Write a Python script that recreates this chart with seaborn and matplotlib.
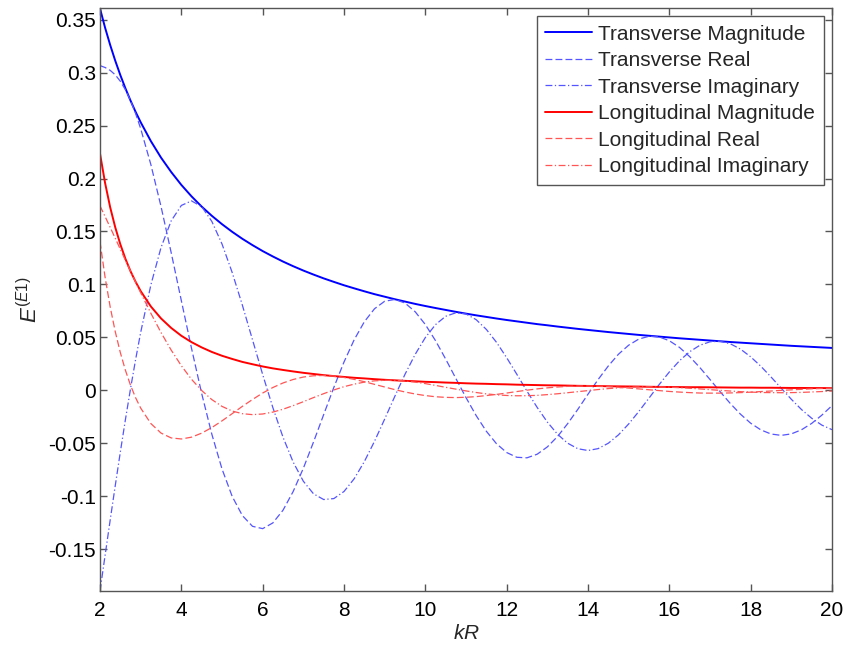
# plot.py
# E1 field components vs kR, transverse and longitudinal parts.

import numpy as np
import matplotlib
matplotlib.use("Agg")
import matplotlib.pyplot as plt
from matplotlib.ticker import FuncFormatter
import seaborn as sns

# kR grid: 2 .. 3 in steps of 0.125 (curves are steep there), then 0.25 up to 20
kr = np.concatenate([np.arange(2.0, 2.99, 0.125), np.arange(3.0, 20.001, 0.25)])

# values, one per kR point
trans_mag = [
    0.3606, 0.3425, 0.3262, 0.3113, 0.2977, 0.2852, 0.2737, 0.2630,
    0.2532, 0.2354, 0.2198, 0.2062,
    0.1940, 0.1832, 0.1735, 0.1648, 0.1569, 0.1497, 0.1431, 0.1371,
    0.1315, 0.1264, 0.1216, 0.1172, 0.1131, 0.1093, 0.1057, 0.1024,
    0.0992, 0.0963, 0.0935, 0.0908, 0.0884, 0.0860, 0.0838, 0.0816,
    0.0796, 0.0777, 0.0759, 0.0741, 0.0724, 0.0708, 0.0693, 0.0678,
    0.0664, 0.0651, 0.0638, 0.0625, 0.0614, 0.0602, 0.0591, 0.0580,
    0.0570, 0.0560, 0.0550, 0.0541, 0.0532, 0.0523, 0.0515, 0.0507,
    0.0499, 0.0491, 0.0484, 0.0477, 0.0470, 0.0463, 0.0456, 0.0450,
    0.0444, 0.0438, 0.0432, 0.0426, 0.0420, 0.0415, 0.0410, 0.0405,
    0.0400,
]
trans_real = [
    0.3067, 0.3049, 0.3022, 0.2980, 0.2919, 0.2839, 0.2737, 0.2615,
    0.2472, 0.2133, 0.1737, 0.1301,
    0.0847, 0.0397, -0.0030, -0.0415, -0.0743, -0.1002, -0.1183, -0.1285,
    -0.1307, -0.1253, -0.1133, -0.0956, -0.0737, -0.0489, -0.0230, 0.0027,
    0.0267, 0.0477, 0.0647, 0.0770, 0.0841, 0.0858, 0.0824, 0.0742,
    0.0621, 0.0469, 0.0295, 0.0112, -0.0069, -0.0239, -0.0387, -0.0505,
    -0.0588, -0.0633, -0.0638, -0.0604, -0.0535, -0.0437, -0.0315, -0.0180,
    -0.0037, 0.0102, 0.0230, 0.0341, 0.0426, 0.0484, 0.0510, 0.0504,
    0.0468, 0.0405, 0.0318, 0.0215, 0.0102, -0.0014, -0.0125, -0.0226,
    -0.0311, -0.0374, -0.0413, -0.0426, -0.0412, -0.0373, -0.0313, -0.0235,
    -0.0145,
]
trans_imag = [
    -0.1896, -0.1560, -0.1227, -0.0901, -0.0583, -0.0277, 0.0014, 0.0289,
    0.0546, 0.0994, 0.1348, 0.1600,
    0.1746, 0.1789, 0.1735, 0.1595, 0.1382, 0.1113, 0.0805, 0.0477,
    0.0149, -0.0163, -0.0443, -0.0678, -0.0859, -0.0978, -0.1032, -0.1023,
    -0.0956, -0.0836, -0.0674, -0.0482, -0.0272, -0.0057, 0.0151, 0.0339,
    0.0498, 0.0620, 0.0699, 0.0732, 0.0721, 0.0667, 0.0575, 0.0453,
    0.0308, 0.0151, -0.0009, -0.0162, -0.0300, -0.0415, -0.0500, -0.0552,
    -0.0569, -0.0551, -0.0500, -0.0421, -0.0318, -0.0200, -0.0074, 0.0054,
    0.0173, 0.0279, 0.0364, 0.0425, 0.0458, 0.0463, 0.0439, 0.0389,
    0.0316, 0.0227, 0.0126, 0.0020, -0.0085, -0.0182, -0.0264, -0.0329,
    -0.0372,
]
long_mag = [
    0.2236, 0.1958, 0.1729, 0.1539, 0.1379, 0.1242, 0.1125, 0.1025,
    0.0937, 0.0792, 0.0679, 0.0589,
    0.0515, 0.0455, 0.0405, 0.0362, 0.0326, 0.0296, 0.0268, 0.0246,
    0.0225, 0.0207, 0.0192, 0.0178, 0.0165, 0.0154, 0.0143, 0.0134,
    0.0126, 0.0118, 0.0112, 0.0105, 0.0099, 0.0094, 0.0089, 0.0085,
    0.0080, 0.0077, 0.0073, 0.0070, 0.0066, 0.0063, 0.0061, 0.0058,
    0.0056, 0.0053, 0.0051, 0.0049, 0.0047, 0.0046, 0.0044, 0.0042,
    0.0041, 0.0040, 0.0038, 0.0037, 0.0036, 0.0035, 0.0033, 0.0032,
    0.0031, 0.0030, 0.0029, 0.0029, 0.0028, 0.0027, 0.0026, 0.0025,
    0.0025, 0.0024, 0.0024, 0.0023, 0.0022, 0.0022, 0.0021, 0.0021,
    0.0020,
]
long_real = [
    0.1403, 0.1068, 0.0788, 0.0554, 0.0356, 0.0189, 0.0048, -0.0070,
    -0.0168, -0.0314, -0.0404, -0.0450,
    -0.0460, -0.0443, -0.0405, -0.0352, -0.0289, -0.0221, -0.0152, -0.0087,
    -0.0026, 0.0026, 0.0069, 0.0102, 0.0125, 0.0137, 0.0140, 0.0134,
    0.0121, 0.0103, 0.0081, 0.0056, 0.0031, 0.0006, -0.0016, -0.0035,
    -0.0050, -0.0061, -0.0067, -0.0069, -0.0066, -0.0060, -0.0050, -0.0039,
    -0.0026, -0.0012, 0.0001, 0.0013, 0.0023, 0.0031, 0.0037, 0.0040,
    0.0041, 0.0039, 0.0035, 0.0029, 0.0021, 0.0013, 0.0005, -0.0003,
    -0.0011, -0.0017, -0.0022, -0.0026, -0.0027, -0.0027, -0.0025, -0.0022,
    -0.0018, -0.0012, -0.0007, -0.0001, 0.0004, 0.0009, 0.0014, 0.0017,
    0.0019,
]
long_imag = [
    0.1742, 0.1641, 0.1539, 0.1436, 0.1332, 0.1228, 0.1125, 0.1022,
    0.0922, 0.0728, 0.0546, 0.0380,
    0.0232, 0.0104, -0.0002, -0.0088, -0.0152, -0.0196, -0.0221, -0.0230,
    -0.0224, -0.0206, -0.0179, -0.0145, -0.0108, -0.0069, -0.0032, 0.0003,
    0.0034, 0.0058, 0.0077, 0.0089, 0.0094, 0.0094, 0.0088, 0.0077,
    0.0063, 0.0046, 0.0028, 0.0011, -0.0006, -0.0021, -0.0034, -0.0043,
    -0.0049, -0.0052, -0.0051, -0.0048, -0.0041, -0.0033, -0.0023, -0.0013,
    -0.0003, 0.0007, 0.0016, 0.0023, 0.0029, 0.0032, 0.0033, 0.0032,
    0.0029, 0.0025, 0.0019, 0.0013, 0.0006, -0.0001, -0.0007, -0.0013,
    -0.0017, -0.0021, -0.0022, -0.0023, -0.0022, -0.0020, -0.0016, -0.0012,
    -0.0007,
]

x_ticks = [2, 4, 6, 8, 10, 12, 14, 16, 18, 20]
y_ticks = [-0.15, -0.1, -0.05, 0, 0.05, 0.1, 0.15, 0.2, 0.25, 0.3, 0.35]

sns.set_theme(style="ticks")
plt.rcParams["font.family"] = ["Liberation Sans", "DejaVu Sans"]
plt.rcParams["mathtext.fontset"] = "custom"
plt.rcParams["mathtext.it"] = "Liberation Sans:italic"
plt.rcParams["mathtext.rm"] = "Liberation Sans"

DASH = (0, (5.5, 2.5))
DASHDOT = (0, (5.5, 2, 1, 2))

series = [
    ("Transverse Magnitude",   trans_mag,  "#0000ff", "-",     1.4),
    ("Transverse Real",        trans_real, "#5555ff", DASH,    0.9),
    ("Transverse Imaginary",   trans_imag, "#5555ff", DASHDOT, 0.9),
    ("Longitudinal Magnitude", long_mag,   "#ff0000", "-",     1.4),
    ("Longitudinal Real",      long_real,  "#ff5555", DASH,    0.9),
    ("Longitudinal Imaginary", long_imag,  "#ff5555", DASHDOT, 0.9),
]

fig = plt.figure(figsize=(8.45, 6.46), dpi=100)
ax = fig.add_axes([100 / 845, 55 / 646, 732 / 845, 583 / 646])

for label, vals, color, ls, lw in series:
    sns.lineplot(x=kr, y=vals, ax=ax, color=color, linestyle=ls,
                 linewidth=lw, label=label, sort=False, estimator=None)

all_vals = np.concatenate([np.asarray(s[1]) for s in series])
ax.set_xlim(kr.min(), kr.max())
ax.set_ylim(all_vals.min(), all_vals.max() + 0.0005)

ax.set_xticks(x_ticks)
ax.set_yticks(y_ticks)
ax.yaxis.set_major_formatter(FuncFormatter(lambda v, _: f"{v:g}"))
ax.tick_params(direction="in", length=5, width=1, colors="#555555",
               labelcolor="black", labelsize=15, top=True, right=True)
ax.tick_params(axis="x", pad=7)
ax.tick_params(axis="y", pad=3)
for sp in ax.spines.values():
    sp.set_color("#555555")
    sp.set_linewidth(1.0)

ax.set_xlabel(r"$\mathit{kR}$", fontsize=15, labelpad=3)
ax.set_ylabel(r"$\mathit{E^{(E1)}}$", fontsize=16, labelpad=4)

leg = ax.legend(loc="upper right", fontsize=15, frameon=True, fancybox=False,
                edgecolor="#555555", framealpha=1, handlelength=2.26,
                handletextpad=0.29, labelspacing=0.36, borderpad=0.4,
                borderaxespad=0.4)
leg.get_frame().set_linewidth(1.0)

fig.savefig("out.png", dpi=100)
plt.close(fig)
